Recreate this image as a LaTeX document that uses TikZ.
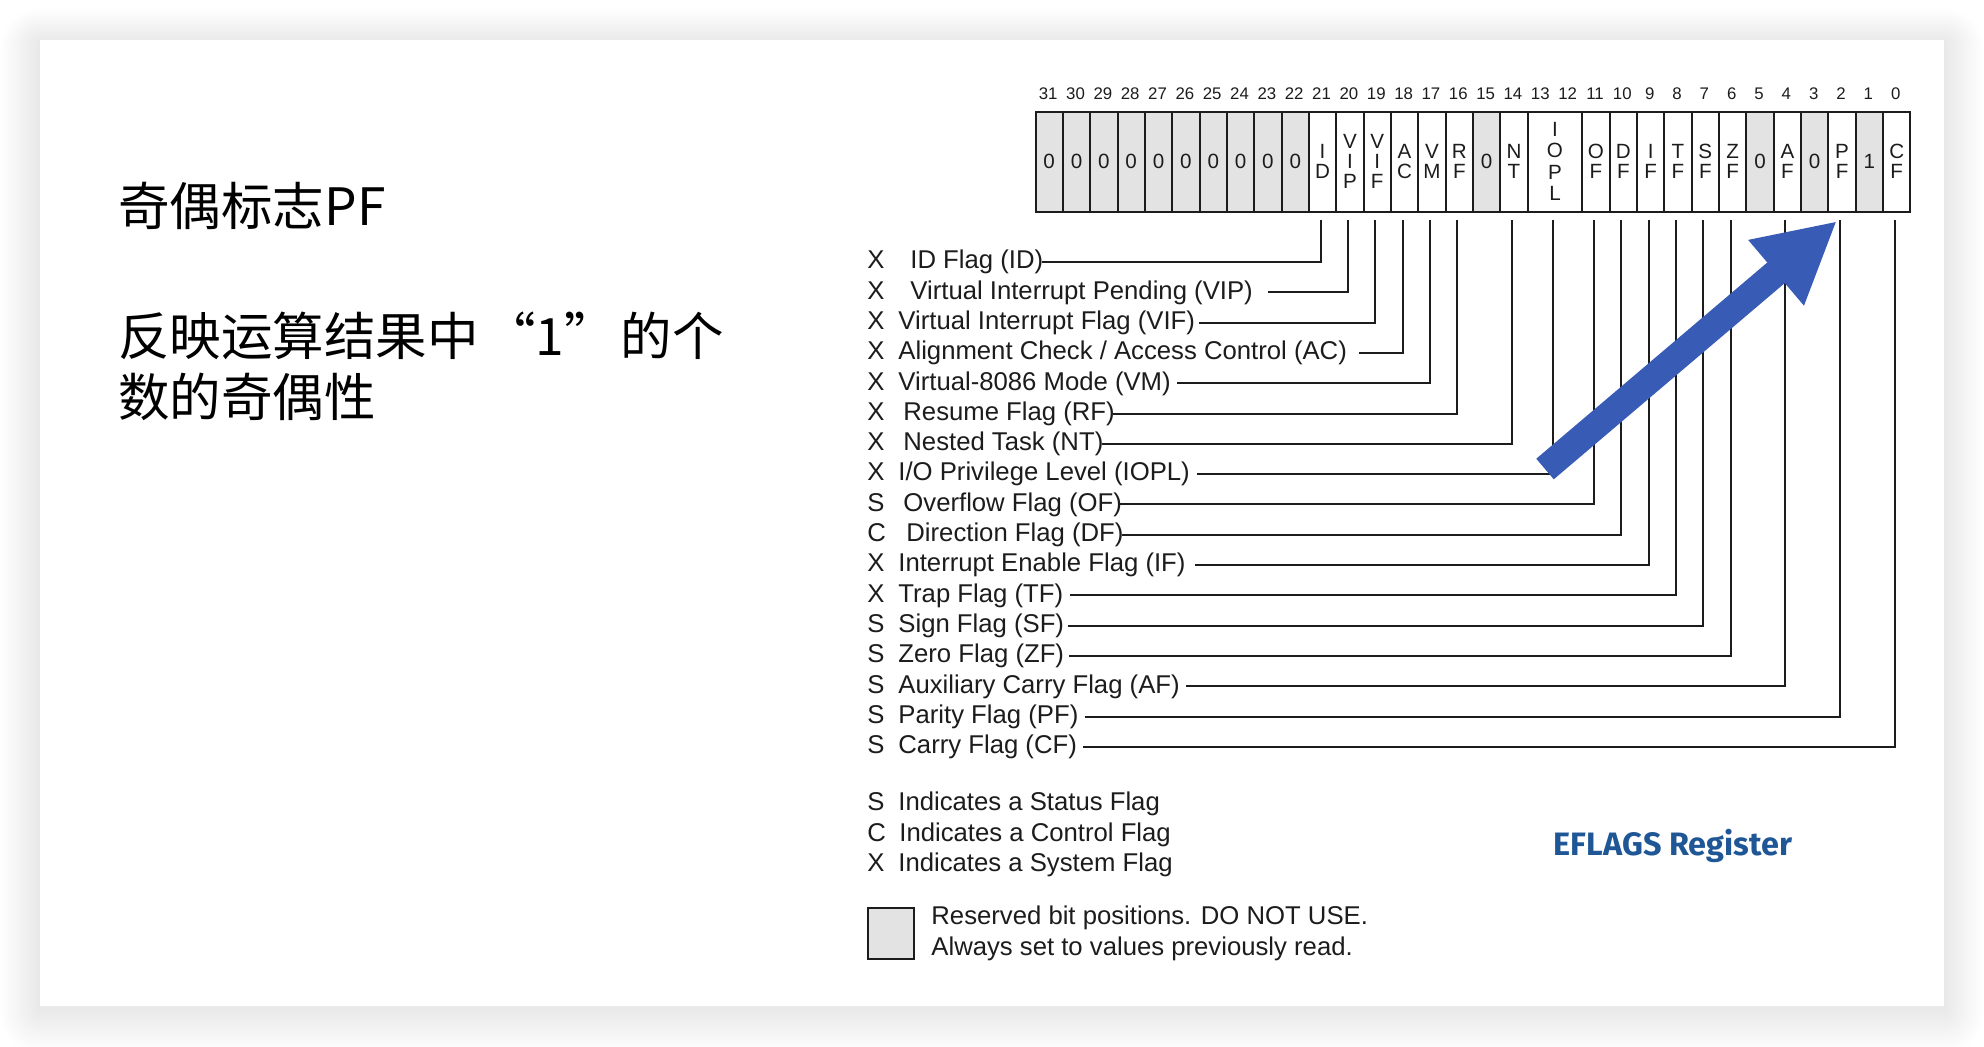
\documentclass[tikz,border=0pt]{standalone}
\usepackage{fontspec}
\setmainfont{Liberation Sans}
\newfontfamily\cjk{Noto Sans CJK SC}
\newfontfamily\eflagsfont{Fira Sans}
\usetikzlibrary{arrows.meta}
\definecolor{resgrey}{RGB}{227,227,227}
\definecolor{ink}{RGB}{28,28,28}
\definecolor{arrowblue}{RGB}{56,92,182}
\definecolor{eblue}{RGB}{31,87,150}
\begin{document}
\begin{tikzpicture}[x=0.5pt,y=-0.5pt,
  cellbox/.style={draw=ink, line width=1pt, minimum width=13.67pt, minimum height=50pt,
    inner sep=0pt, anchor=north west, align=center, text=ink,
    font=\fontsize{10.3}{10.15}\selectfont},
  bitnum/.style={font=\fontsize{8.4}{8.4}\selectfont, inner sep=0pt, text=ink},
  flagtext/.style={anchor=west, inner sep=0pt, text=ink, text height=9.5pt, text depth=2.7pt,
    font=\fontsize{12.85}{15}\selectfont},
  notetext/.style={anchor=west, inner sep=0pt, text=ink, align=left,
    font=\fontsize{12.85}{15.25}\selectfont},
  leader/.style={draw=ink, line width=1pt},
  cjktext/.style={anchor=west, inner sep=0pt, align=left, text=black,
    font={\cjk\fontsize{25.75}{30.5}\selectfont}},
]
\useasboundingbox (0,0) rectangle (1984,1046);
% page and card with soft shadow
\fill[white] (0,0) rectangle (1984,1046);
\foreach \k in {1,...,22}
  \fill[black, opacity=0.0055, rounded corners=\k*0.9pt]
    ({40-1.8*\k},{42-1.5*\k}) rectangle ({1944+1.8*\k},{1009+2*\k});
\fill[white] (40,40) rectangle (1944,1006);

% left Chinese text
\node[cjktext] (title) at (118,206) {奇偶标志PF};
\node[cjktext] (para) at (118,366) {反映运算结果中\hspace{0.1em}{\addfontfeature{RawFeature=+fwid}“}1{\addfontfeature{RawFeature=+fwid}”}\hspace{0.1em}的个\\数的奇偶性};

% register cells
\foreach \b/\txt/\fc in {31/0/resgrey,30/0/resgrey,29/0/resgrey,28/0/resgrey,27/0/resgrey,
  26/0/resgrey,25/0/resgrey,24/0/resgrey,23/0/resgrey,22/0/resgrey,
  21/{I\\D}/white,20/{V\\I\\P}/white,19/{V\\I\\F}/white,18/{A\\C}/white,17/{V\\M}/white,
  16/{R\\F}/white,15/0/resgrey,14/{N\\T}/white,11/{O\\F}/white,10/{D\\F}/white,
  9/{I\\F}/white,8/{T\\F}/white,7/{S\\F}/white,6/{Z\\F}/white,5/0/resgrey,4/{A\\F}/white,
  3/0/resgrey,2/{P\\F}/white,1/1/resgrey,0/{C\\F}/white}
{
  \pgfmathsetmacro\xl{1034.5+(31-\b)*27.34}
  \node[cellbox, fill=\fc] (c\b) at (\xl,110.5) {\txt};
}
\node[cellbox, fill=white, minimum width=27.34pt, font=\fontsize{10.3}{10.6}\selectfont]
  (c12) at ({1034.5+18*27.34},110.5) {I\\O\\P\\L};

% bit numbers
\foreach \b in {0,...,31}
  \node[bitnum] (n\b) at ({1034.5+(31.5-\b)*27.34},94) {\b};

% flag rows with leaders
\foreach \i/\m/\t/\b/\xx/\g in {
  0/X/{ID Flag (ID)}/21/910/-2,
  1/X/{Virtual Interrupt Pending (VIP)}/20/910/15,
  2/X/{Virtual Interrupt Flag (VIF)}/19/898/4,
  3/X/{Alignment Check / Access Control (AC)}/18/898/12,
  4/X/{Virtual-8086 Mode (VM)}/17/898/6,
  5/X/{Resume Flag (RF)}/16/903/-2,
  6/X/{Nested Task (NT)}/14/903/-2,
  7/X/{I/O Privilege Level (IOPL)}/12/898/7,
  8/S/{Overflow Flag (OF)}/11/903/-2,
  9/C/{Direction Flag (DF)}/10/906/-2,
  10/X/{Interrupt Enable Flag (IF)}/9/898/9,
  11/X/{Trap Flag (TF)}/8/898/7,
  12/S/{Sign Flag (SF)}/7/898/4,
  13/S/{Zero Flag (ZF)}/6/898/5,
  14/S/{Auxiliary Carry Flag (AF)}/4/898/6,
  15/S/{Parity Flag (PF)}/2/898/6,
  16/S/{Carry Flag (CF)}/0/898/6}
{
  \pgfmathsetmacro\yy{262+30.3*\i}
  \node[flagtext] (m\i) at (867,\yy) {\m};
  \node[flagtext] (t\i) at (\xx,\yy) {\t};
  \draw[leader] ([xshift=\g*0.5pt]t\i.east) -| ([xshift=-1pt,yshift=-3.75pt]c\b.south);
}

% legend
\node[flagtext] (ls) at (867,804) {S};
\node[flagtext] (lst) at (898,804) {Indicates a Status Flag};
\node[flagtext] (lc) at (867,834.3) {C};
\node[flagtext] (lct) at (899,834.3) {Indicates a Control Flag};
\node[flagtext] (lx) at (867,864.6) {X};
\node[flagtext] (lxt) at (898,864.6) {Indicates a System Flag};
\node[draw=ink, fill=resgrey, line width=1pt, minimum width=23pt, minimum height=25.5pt,
  inner sep=0pt, anchor=north west] (lbox) at (867,907) {};
\node[notetext] (ltext) at (931,933.5)
  {Reserved bit positions. DO NOT USE.\\Always set to values previously read.};

\node[text=eblue, inner sep=0pt, font={\fontsize{16.2}{18}\eflagsfont\bfseries}] (ef) at (1673,846) {EFLAGS Register};

% blue arrow pointing at PF
\coordinate (arrtail) at (1545,469);
\coordinate (arrtip) at (1837,221);
\draw[arrowblue, line width=13.5pt, -{Triangle[length=40pt, width=40pt]}] (arrtail) -- (arrtip);
\end{tikzpicture}
\end{document}
